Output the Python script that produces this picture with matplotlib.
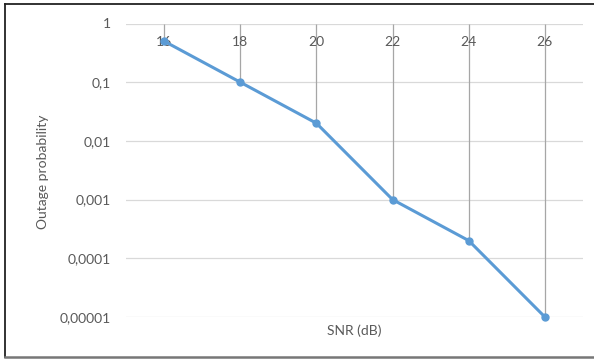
import matplotlib
matplotlib.use("Agg")
import matplotlib.pyplot as plt
from matplotlib.lines import Line2D
from matplotlib.ticker import FixedLocator, FuncFormatter

plt.rcParams["font.family"] = ["Lato", "DejaVu Sans"]

# ── data ──────────────────────────────────────────────────────────────────────
snr_labels = ["16", "18", "20", "22", "24", "26"]
outage = [0.5, 0.1, 0.02, 0.001, 0.0002, 0.00001]
y_ticks = [1, 0.1, 0.01, 0.001, 0.0001, 0.00001]
y_tick_labels = ["1", "0,1", "0,01", "0,001", "0,0001", "0,00001"]

TXT = "#595959"
GRID = "#D9D9D9"
BLUE = "#5B9BD5"
FS = 10

fig = plt.figure(figsize=(5.94, 3.59), dpi=100)
ax = fig.add_axes([126 / 594, 42 / 359, 457 / 594, 293.5 / 359])

xs = list(range(len(snr_labels)))

ax.set_yscale("log")
ax.set_ylim(1e-5, 1)
ax.set_xlim(-0.5, len(snr_labels) - 0.5)

# horizontal gridlines (the one at 1 doubles as the category axis)
for yv in y_ticks:
    ax.axhline(yv, color=GRID, lw=0.9, zorder=0)

# drop lines from the axis at 1 down to each point
ax.vlines(xs, outage, 1, color="#A6A6A6", lw=0.9, zorder=1)

ax.plot(xs, outage, "-o", color=BLUE, lw=2.2, ms=5, zorder=3, clip_on=False)

ax.yaxis.set_major_locator(FixedLocator(y_ticks))
ax.yaxis.set_minor_locator(FixedLocator([]))
ax.yaxis.set_major_formatter(FuncFormatter(
    lambda v, pos: y_tick_labels[y_ticks.index(min(y_ticks, key=lambda t: abs(t - v)))]))
ax.tick_params(axis="y", length=0, pad=11, labelsize=FS, labelcolor=TXT)
ax.set_xticks([])

# category labels sit just under the axis at 1
for x, lab in zip(xs, snr_labels):
    ax.annotate(lab, xy=(x, 1), xycoords=("data", "axes fraction"),
                xytext=(0, -13), textcoords="offset points",
                ha="center", va="center", fontsize=FS, color=TXT, zorder=2)

for s in ax.spines.values():
    s.set_visible(False)

fig.text(43 / 594, 1 - 172 / 359, "Outage probability", rotation=90,
         ha="center", va="center", fontsize=FS, color=TXT)
fig.text(354 / 594, 1 - 331 / 359, "SNR (dB)", ha="center", va="center",
         fontsize=FS, color=TXT)

# chart frame
fig.add_artist(Line2D([5 / 594, 1], [1 - 3.5 / 359] * 2, color="#222222", lw=1.3))
fig.add_artist(Line2D([5 / 594] * 2, [1 - 3.5 / 359, 1 - 357 / 359], color="#222222", lw=1.3))
fig.add_artist(Line2D([5 / 594, 1], [1 - 357 / 359] * 2, color="#777777", lw=1.8))

fig.savefig("out.png", dpi=100)
